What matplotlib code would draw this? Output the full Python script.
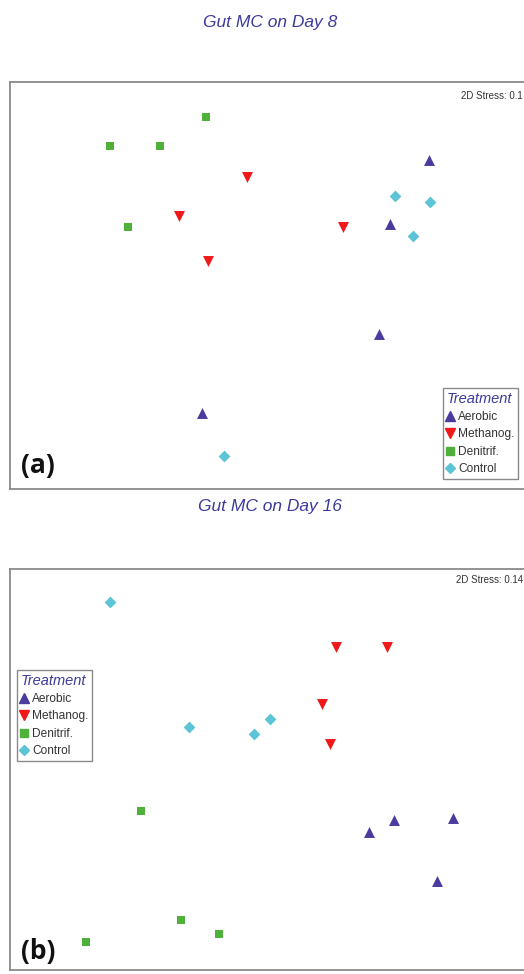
import matplotlib.pyplot as plt
from matplotlib.lines import Line2D

# NMDS coordinates
# panel (a) - Day 8
a_aer_x = [1.27, 0.97, 0.88, -0.50]
a_aer_y = [0.98, 0.48, -0.38, -1.00]
a_met_x = [-0.15, -0.68, 0.60, -0.45]
a_met_y = [0.85, 0.54, 0.46, 0.19]
a_den_x = [-0.47, -1.22, -0.83, -1.08]
a_den_y = [1.32, 1.09, 1.09, 0.46]
a_con_x = [1.01, 1.28, 1.15, -0.33]
a_con_y = [0.70, 0.65, 0.39, -1.33]

# panel (b) - Day 16
b_aer_x = [0.79, 0.99, 1.45, 1.32]
b_aer_y = [-0.49, -0.39, -0.38, -0.87]
b_met_x = [0.54, 0.93, 0.43, 0.49]
b_met_y = [0.95, 0.95, 0.51, 0.20]
b_den_x = [-0.98, -0.67, -0.37, -1.41]
b_den_y = [-0.32, -1.17, -1.28, -1.34]
b_con_x = [-1.22, -0.61, 0.02, -0.10]
b_con_y = [1.30, 0.33, 0.39, 0.28]

treatments = ['Aerobic', 'Methanog.', 'Denitrif.', 'Control']
titles = ['Gut MC on Day 8', 'Gut MC on Day 16']
stress = ['2D Stress: 0.1', '2D Stress: 0.14']
panel_tags = ['(a)', '(b)']

colors = ['#4a3c9e', '#f01818', '#4fb03a', '#5cc4d6']
markers = ['^', 'v', 's', 'D']
sizes = [62, 62, 40, 36]

plt.rcParams['font.family'] = ['Liberation Sans', 'DejaVu Sans']

W, H = 524, 974
fig = plt.figure(figsize=(W / 100, H / 100), dpi=100)


def px_axes(l, t, r, b):
    return fig.add_axes([l / W, 1 - b / H, (r - l) / W, (b - t) / H])


def draw_panel(ax, data, xlim, ylim):
    for (xs, ys), c, m, s in zip(data, colors, markers, sizes):
        ax.scatter(xs, ys, c=c, marker=m, s=s, linewidths=0, zorder=3)
    ax.set_xlim(*xlim)
    ax.set_ylim(*ylim)
    ax.set_xticks([])
    ax.set_yticks([])
    for side in ['left', 'top', 'bottom']:
        ax.spines[side].set_color('#8a8a8a')
        ax.spines[side].set_linewidth(1.3)
    ax.spines['right'].set_visible(False)


def add_legend(ax, l, t):
    handles = [Line2D([], [], linestyle='none', marker=m, color=c,
                      markersize=7 if m in '^v' else 5.5)
               for c, m in zip(colors, markers)]
    leg = ax.legend(handles, treatments, title='Treatment', loc='upper left',
                    bbox_to_anchor=(l / W, 1 - t / H),
                    bbox_transform=fig.transFigure, fontsize=8.6,
                    handlelength=0.6, handletextpad=0.35, labelspacing=0.45,
                    borderpad=0.3, borderaxespad=0, fancybox=False,
                    framealpha=1, edgecolor='#8a8a8a')
    leg.get_frame().set_linewidth(1.0)
    leg.get_title().set_fontsize(10.5)
    leg.get_title().set_fontstyle('italic')
    leg.get_title().set_color('#3c3a9c')
    leg._legend_box.align = 'left'
    for t_ in leg.get_texts():
        t_.set_color('#333333')


ax_a = px_axes(10, 82, 524, 489)
draw_panel(ax_a, [(a_aer_x, a_aer_y), (a_met_x, a_met_y),
                  (a_den_x, a_den_y), (a_con_x, a_con_y)],
           (-2.0, 2.016), (-1.59, 1.59))
add_legend(ax_a, 443, 388)

ax_b = px_axes(10, 569, 524, 970)
draw_panel(ax_b, [(b_aer_x, b_aer_y), (b_met_x, b_met_y),
                  (b_den_x, b_den_y), (b_con_x, b_con_y)],
           (-2.0, 2.0), (-1.56, 1.56))
add_legend(ax_b, 17, 670)

for title, y in zip(titles, [22, 507]):
    fig.text(270 / W, 1 - y / H, title, ha='center', va='center',
             fontsize=12.5, fontstyle='italic', color='#3c3a9c')

for s, y in zip(stress, [96, 580]):
    fig.text(523 / W, 1 - y / H, s, ha='right', va='center',
             fontsize=7, color='#333333')

for tag, y in zip(panel_tags, [466, 952]):
    fig.text(21 / W, 1 - y / H, tag, ha='left', va='center',
             fontsize=19, fontweight='bold', color='#111111',
             family=['Open Sans', 'DejaVu Sans'])

fig.savefig('out.png', dpi=100, facecolor='white')
